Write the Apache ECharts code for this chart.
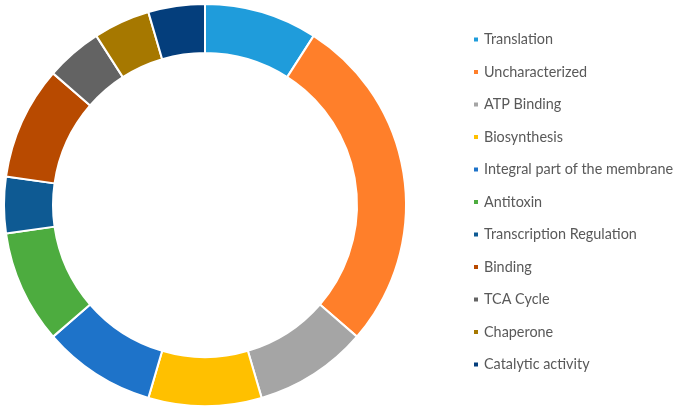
<!DOCTYPE html>
<html>
<head>
<meta charset="utf-8">
<script src="https://cdn.jsdelivr.net/npm/echarts@6/dist/echarts.min.js"></script>
<style>html,body{margin:0;padding:0;background:#fff}#c{width:676px;height:410px}</style>
</head>
<body>
<div id="c"></div>
<script>
var categories = ["Translation","Uncharacterized","ATP Binding","Biosynthesis","Integral part of the membrane","Antitoxin","Transcription Regulation","Binding","TCA Cycle","Chaperone","Catalytic activity"];
var values = [2,6,2,2,2,2,1,2,1,1,1];
var colors = ["#1F9CDB","#FF7F2A","#A5A5A5","#FFC000","#1E73C9","#4DAC3F","#0E5A93","#B84A00","#636363","#A67800","#043E7C"];

var chart = echarts.init(document.getElementById('c'), null, {renderer:'canvas'});
chart.setOption({
  animation:false,
  color: colors,
  legend: {
    orient:'vertical',
    left:472,
    top:32,
    padding:0,
    itemWidth:6,
    itemHeight:6,
    itemGap:17.5,
    icon:'rect',
    textStyle:{fontFamily:'Lato',fontSize:14.4,color:'#595959',lineHeight:15,padding:[0,0,0,0]},
    data: categories
  },
  series:[{
    type:'pie',
    center:[205,205],
    radius:[152,201],
    startAngle:90,
    clockwise:true,
    label:{show:false},
    labelLine:{show:false},
    itemStyle:{borderColor:'#fff',borderWidth:2},
    data: categories.map(function(n,i){return {name:n,value:values[i]};})
  }]
});
</script>
</body>
</html>
